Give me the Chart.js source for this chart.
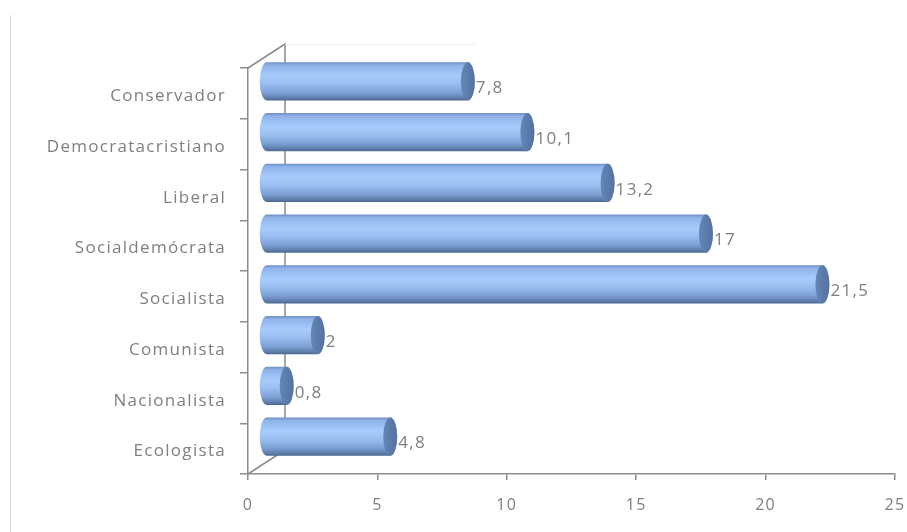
<!DOCTYPE html>
<html>
<head>
<meta charset="utf-8">
<script src="https://cdn.jsdelivr.net/npm/chart.js@4/dist/chart.umd.min.js"></script>
<style>
  html, body { margin: 0; padding: 0; background: #ffffff; }
  #wrap { position: relative; width: 907px; height: 532px; }
  #frame { position: absolute; left: 10px; top: 15px; width: 1px; height: 517px; background: #dcdcdc; }
</style>
</head>
<body>
<div id="wrap">
  <div id="frame"></div>
  <canvas id="c" width="907" height="532"></canvas>
</div>
<script>
// Party families and their share
const categories = ['Conservador', 'Democratacristiano', 'Liberal', 'Socialdemócrata',
                    'Socialista', 'Comunista', 'Nacionalista', 'Ecologista'];
const values = [7.8, 10.1, 13.2, 17, 21.5, 2, 0.8, 4.8];
const xTicks = [0, 5, 10, 15, 20, 25];

// depth offset of the 3D box (back wall relative to front plane)
const WALL_DX = 37, WALL_DY = -24;
const BAR_DX = 18, BAR_DY = -12;
const SPACING = '1.3px';

const fmt = v => String(v).replace('.', ',');

// wide letter spacing for all text
const spacing = {
  id: 'spacing',
  beforeLayout(chart) { chart.ctx.letterSpacing = SPACING; },
  beforeDraw(chart) { chart.ctx.letterSpacing = SPACING; }
};

const cylinders = {
  id: 'cylinders',
  beforeDatasetsDraw(chart) {
    const { ctx, chartArea: a } = chart;
    ctx.save();
    ctx.strokeStyle = '#8c8c8c';
    ctx.lineWidth = 1.5;
    ctx.beginPath();
    // depth edges and back wall edge
    ctx.moveTo(a.left, a.top); ctx.lineTo(a.left + WALL_DX, a.top + WALL_DY);
    ctx.lineTo(a.left + WALL_DX, a.bottom + WALL_DY);
    ctx.lineTo(a.left, a.bottom);
    ctx.stroke();
    ctx.strokeStyle = '#f0f0f0';
    ctx.lineWidth = 1;
    ctx.beginPath();
    ctx.moveTo(a.left + WALL_DX, a.top + WALL_DY + 0.5);
    ctx.lineTo(475, a.top + WALL_DY + 0.5);
    ctx.stroke();
    ctx.restore();
  },
  afterDatasetsDraw(chart) {
    const { ctx } = chart;
    const meta = chart.getDatasetMeta(0);
    ctx.save();
    meta.data.forEach((bar, i) => {
      const p = bar.getProps(['x', 'y', 'base', 'height'], true);
      const h = p.height;
      const cy = p.y + BAR_DY;
      const x0 = p.base + BAR_DX;
      const x1 = p.x + BAR_DX;
      const ry = h / 2;
      const rx = 7;
      const top = cy - ry;
      // body
      const g = ctx.createLinearGradient(0, top, 0, top + h);
      g.addColorStop(0, '#6f8fc4');
      g.addColorStop(0.08, '#8fb3ea');
      g.addColorStop(0.35, '#a7cbfb');
      g.addColorStop(0.55, '#9dc0f3');
      g.addColorStop(0.8, '#7c9fd4');
      g.addColorStop(0.94, '#5d7cab');
      g.addColorStop(1, '#4b678f');
      ctx.fillStyle = g;
      ctx.beginPath();
      ctx.ellipse(x0, cy, rx, ry, 0, Math.PI / 2, Math.PI * 1.5);
      ctx.lineTo(x1, top);
      ctx.ellipse(x1, cy, rx, ry, 0, -Math.PI / 2, Math.PI / 2);
      ctx.closePath();
      ctx.fill();
      // end cap
      const gc = ctx.createLinearGradient(x1 - rx, 0, x1 + rx, 0);
      gc.addColorStop(0, '#6586b8');
      gc.addColorStop(1, '#52729f');
      ctx.fillStyle = gc;
      ctx.beginPath();
      ctx.ellipse(x1, cy, rx, ry, 0, 0, Math.PI * 2);
      ctx.fill();
      // value label
      ctx.fillStyle = '#7f7f7f';
      ctx.font = '17px "Open Sans"';
      ctx.textAlign = 'left';
      ctx.textBaseline = 'middle';
      ctx.fillText(fmt(values[i]), x1 + rx + 1, cy + 7);
    });
    ctx.restore();
  }
};

new Chart(document.getElementById('c'), {
  type: 'bar',
  data: {
    labels: categories,
    datasets: [{
      data: values,
      backgroundColor: 'rgba(0,0,0,0)',
      borderWidth: 0,
      barPercentage: 0.75,
      categoryPercentage: 1
    }]
  },
  plugins: [spacing, cylinders],
  options: {
    indexAxis: 'y',
    responsive: false,
    animation: false,
    events: [],
    layout: { padding: { top: 68, right: 12, left: 0, bottom: 0 } },
    plugins: { legend: { display: false }, tooltip: { enabled: false } },
    scales: {
      x: {
        min: 0, max: 25,
        afterBuildTicks: s => { s.ticks = xTicks.map(v => ({ value: v })); },
        afterFit: s => { s.height = 58; s.paddingLeft = 0; s.paddingRight = 0; },
        grid: { drawOnChartArea: false, tickLength: 6, color: '#8c8c8c', lineWidth: 1.5 },
        border: { color: '#8c8c8c', width: 1.5 },
        ticks: { color: '#7f7f7f', font: { family: 'Open Sans', size: 16 }, padding: 16 }
      },
      y: {
        afterFit: s => { s.width = 248; s.paddingTop = 0; s.paddingBottom = 0; },
        grid: { drawOnChartArea: false, tickLength: 8, color: '#8c8c8c', lineWidth: 1.5, offset: true },
        border: { color: '#8c8c8c', width: 1.5 },
        ticks: { color: '#7f7f7f', font: { family: 'Open Sans', size: 17 }, padding: 14, labelOffset: 3 }
      }
    }
  }
});
</script>
</body>
</html>
